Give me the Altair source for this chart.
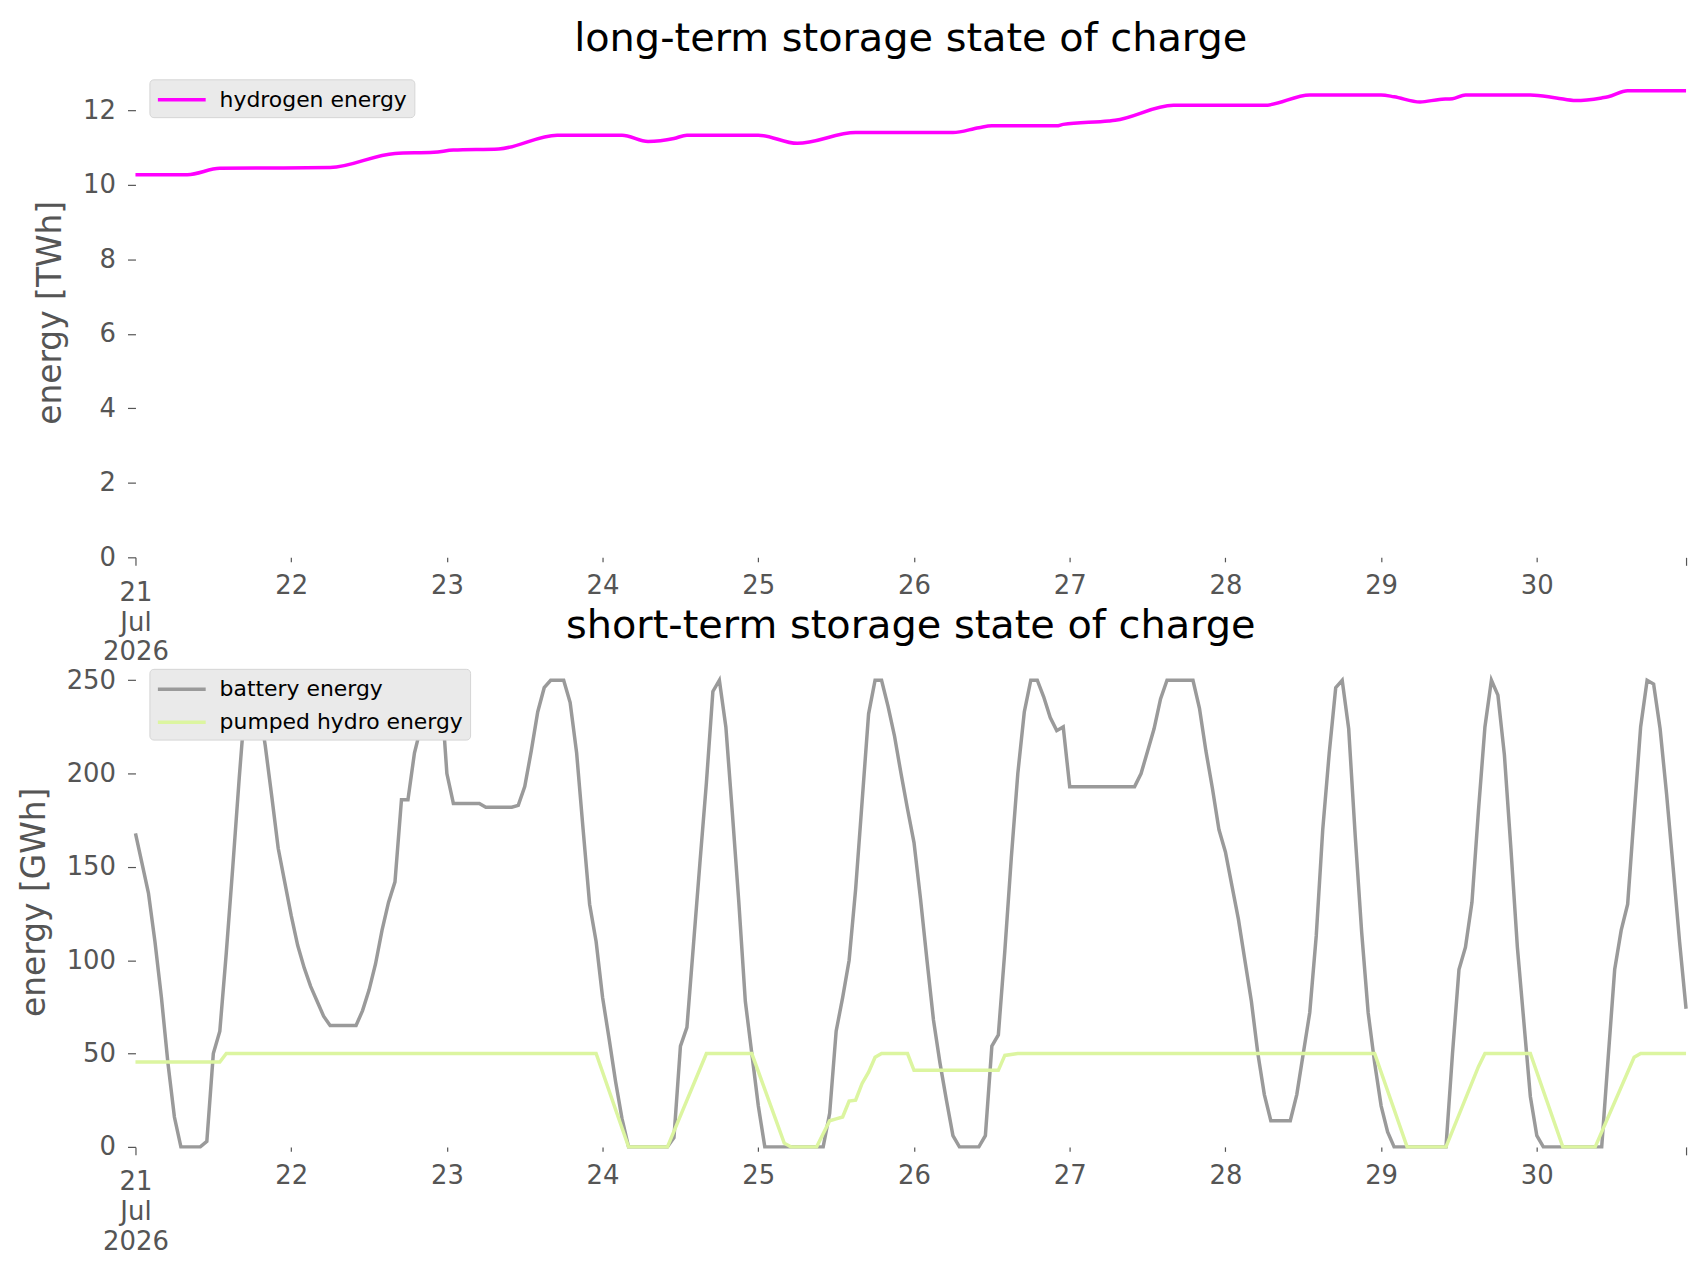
import altair as alt
import pandas as pd

START = pd.Timestamp("2026-07-21 00:00")

# hydrogen state of charge (TWh) at hourly offsets from START
HYD_HOURS = [0, 8, 13, 30, 40, 46, 49, 56, 65, 75, 79, 83, 85, 96, 102, 111, 126, 130, 132,
             142, 143, 150, 151, 160, 174, 181, 192, 194, 198, 201, 203, 205, 215, 219, 222,
             226, 227, 230, 239]
HYD_TWH = [10.27, 10.27, 10.44, 10.46, 10.84, 10.87, 10.93, 10.96, 11.33, 11.33, 11.16, 11.24,
           11.33, 11.33, 11.11, 11.40, 11.40, 11.53, 11.58, 11.58, 11.62, 11.71, 11.73, 12.13,
           12.13, 12.41, 12.41, 12.36, 12.22, 12.29, 12.31, 12.41, 12.41, 12.33, 12.26, 12.33,
           12.36, 12.52, 12.52]

# battery state of charge (GWh)
BAT_HOURS = [0, 1, 2, 3, 4, 5, 6, 7, 10, 11, 12, 13, 14, 15, 16, 17, 18, 19, 20, 21, 22, 23,
             24, 25, 26, 27, 28, 29, 30, 34, 35, 36, 37, 38, 39, 40, 41, 42, 43, 44, 45, 46, 47,
             48, 49, 53, 54, 58, 59, 60, 61, 62, 63, 64, 66, 67, 68, 69, 70, 71, 72, 73, 74, 75,
             76, 82, 83, 84, 85, 86, 87, 88, 89, 90, 91, 92, 93, 94, 95, 96, 97, 106, 107, 108,
             109, 110, 111, 112, 113, 114, 115, 116, 117, 118, 119, 120, 121, 122, 123, 124, 125,
             126, 127, 130, 131, 132, 133, 134, 135, 136, 137, 138, 139, 140, 141, 142, 143, 144,
             154, 155, 156, 157, 158, 159, 163, 164, 165, 166, 167, 168, 169, 170, 171, 172, 173,
             174, 175, 178, 179, 180, 181, 182, 183, 184, 185, 186, 187, 188, 189, 190, 191, 192,
             193, 194, 202, 203, 204, 205, 206, 207, 208, 209, 210, 211, 212, 213, 214, 215, 216,
             217, 226, 227, 228, 229, 230, 231, 232, 233, 234, 235, 236, 237, 238, 239]
BAT_GWH = [168, 152, 136, 110, 80, 45, 16, 0, 0, 3, 50, 62, 104, 150, 198, 242, 250, 238, 215,
           188, 160, 142, 124, 108, 96, 86, 78, 70, 65, 65, 73, 84, 98, 116, 131, 142, 186, 186,
           211, 225, 234, 242, 250, 200, 184, 184, 182, 182, 183, 193, 212, 233, 246, 250, 250,
           238, 211, 170, 130, 110, 80, 58, 35, 15, 0, 0, 5, 54, 64, 108, 152, 195, 244, 250,
           225, 179, 131, 78, 50, 22, 0, 0, 18, 62, 80, 100, 138, 185, 232, 250, 250, 236, 220,
           200, 181, 163, 133, 100, 68, 45, 25, 6, 0, 0, 6, 54, 60, 105, 155, 200, 233, 250, 250,
           241, 230, 223, 225, 193, 193, 200, 212, 224, 240, 250, 250, 235, 212, 192, 170, 158,
           140, 122, 100, 78, 50, 28, 14, 14, 28, 50, 72, 113, 170, 211, 246, 250, 224, 167, 115,
           72, 45, 22, 8, 0, 0, 50, 95, 107, 131, 180, 225, 250, 242, 210, 160, 107, 67, 27, 6,
           0, 0, 48, 95, 116, 130, 178, 225, 250, 248, 224, 189, 150, 110, 74]

# pumped hydro state of charge (GWh)
PH_HOURS = [0, 13, 14, 71, 76, 82, 88, 95, 100, 101, 105, 107, 108, 109, 110, 111, 112, 113,
            114, 115, 119, 120, 133, 134, 136, 191, 196, 202, 207, 208, 215, 220, 225, 231, 232,
            239]
PH_GWH = [45.5, 45.5, 50, 50, 0, 0, 50, 50, 2, 0, 0, 14, 15, 16, 24.5, 25, 34, 40, 48, 50, 50,
          41, 41, 49, 50, 50, 0, 0, 43, 50, 50, 0, 0, 48, 50, 50]

DAYS = list(range(21, 31))
TWH_TICKS = [0, 2, 4, 6, 8, 10, 12]
GWH_TICKS = [0, 50, 100, 150, 200, 250]


def frame(hours, values, name):
    times = [(START + pd.Timedelta(hours=h)).strftime("%Y-%m-%dT%H:%M:%S") for h in hours]
    return pd.DataFrame({"time": times, "value": values, "series": name})


hyd = frame(HYD_HOURS, HYD_TWH, "hydrogen energy")
short = pd.concat([frame(BAT_HOURS, BAT_GWH, "battery energy"),
                   frame(PH_HOURS, PH_GWH, "pumped hydro energy")], ignore_index=True)

x_domain = [alt.DateTime(year=2026, month=7, date=21, hours=0),
            alt.DateTime(year=2026, month=7, date=30, hours=23)]
x_values = [alt.DateTime(year=2026, month=7, date=d, hours=0) for d in DAYS] + \
           [alt.DateTime(year=2026, month=7, date=30, hours=23)]

FONT = "DejaVu Sans"
GREY = "#555555"
MAJOR = "date(datum.value) == 21 || hours(datum.value) == 23"


def x_axis():
    return alt.Axis(
        values=x_values,
        labelExpr="date(datum.value) == 21 ? ['21', 'Jul', '2026'] : "
                  "(hours(datum.value) == 23 ? '' : '' + date(datum.value))",
        tickSize={"condition": {"test": MAJOR, "value": 8}, "value": 4.5},
        labelPadding={"condition": {"test": MAJOR, "value": 14}, "value": 11},
        labelAlign="center",
        labelOverlap=False,
        labelFlush=False,
        labelLineHeight=30,
        title=None,
    )


def legend():
    return alt.Legend(
        title=None, orient="none", legendX=14, legendY=12,
        fillColor="#eaeaea", strokeColor="#d5d5d5", cornerRadius=4, padding=6.5,
        symbolType="M-1,0L3,0", symbolSize=576, symbolStrokeWidth=3.5,
        symbolFillColor="transparent", rowPadding=8, labelOffset=36, labelLimit=500,
        labelFontSize=22, labelFont=FONT, labelColor="black",
    )


W = 1557
H = 492


def title(text, offset):
    return alt.TitleParams(text, fontSize=40, font=FONT, fontWeight="normal", color="black",
                           frame="group", baseline="bottom", offset=offset)


top = alt.Chart(hyd).mark_line(strokeWidth=3.5, interpolate="monotone").encode(
    x=alt.X("time:T", scale=alt.Scale(domain=x_domain), axis=x_axis()),
    y=alt.Y("value:Q", scale=alt.Scale(domain=[0, 13.15], nice=False),
            axis=alt.Axis(values=TWH_TICKS, title="energy [TWh]")),
    color=alt.Color("series:N", scale=alt.Scale(domain=["hydrogen energy"], range=["#ff00ff"]),
                    legend=legend()),
).properties(width=W, height=H, title=title("long-term storage state of charge", -32))

bottom = alt.Chart(short).mark_line(strokeWidth=3.5).encode(
    x=alt.X("time:T", scale=alt.Scale(domain=x_domain), axis=x_axis()),
    y=alt.Y("value:Q", scale=alt.Scale(domain=[0, 262.5], nice=False),
            axis=alt.Axis(values=GWH_TICKS, title="energy [GWh]")),
    color=alt.Color("series:N",
                    scale=alt.Scale(domain=["battery energy", "pumped hydro energy"],
                                    range=["#9a9a9a", "#dcf5a0"]),
                    legend=legend()),
).properties(width=W, height=H, title=title("short-term storage state of charge", -29.5))

chart = alt.vconcat(top, bottom, spacing=100, bounds="flush").resolve_scale(
    color="independent", y="independent"
).properties(
    padding={"left": 10, "top": 9, "right": 5, "bottom": 5},
    background="white",
).configure_view(stroke=None).configure_axis(
    domain=False, grid=False,
    labelColor=GREY, labelFont=FONT, labelFontSize=26,
    tickColor=GREY, tickWidth=1.2,
    titleColor=GREY, titleFont=FONT, titleFontSize=33, titleFontWeight="normal",
).configure_axisY(tickSize=8, labelPadding=12, titlePadding=15)

chart.save("out.html", embed_options={"renderer": "svg", "actions": False})
